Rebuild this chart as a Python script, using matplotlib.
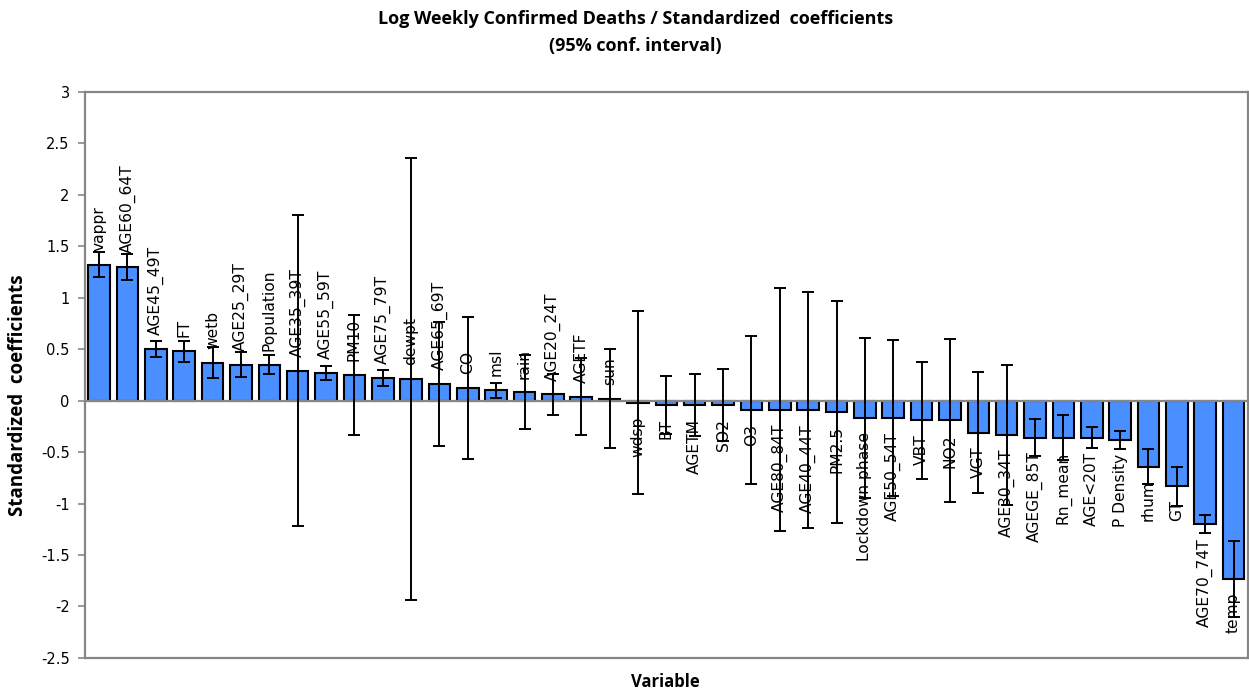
"""Standardized coefficients with 95% CI for log weekly confirmed deaths."""
import matplotlib
matplotlib.use("Agg")
import matplotlib.pyplot as plt
import numpy as np

variables = [
    "vappr", "AGE60_64T", "AGE45_49T", "FT", "wetb", "AGE25_29T", "Population",
    "AGE35_39T", "AGE55_59T", "PM10", "AGE75_79T", "dewpt", "AGE65_69T", "CO",
    "msl", "rain", "AGE20_24T", "AGETF", "sun", "wdsp", "BT", "AGETM", "SO2",
    "O3", "AGE80_84T", "AGE40_44T", "PM2.5", "Lockdown phase", "AGE50_54T",
    "VBT", "NO2", "VGT", "AGE30_34T", "AGEGE_85T", "Rn_mean", "AGE<20T",
    "P Density", "rhum", "GT", "AGE70_74T", "temp",
]
coef = [
    1.32, 1.30, 0.50, 0.48, 0.37, 0.35, 0.35, 0.29, 0.27, 0.25, 0.22, 0.21,
    0.16, 0.12, 0.10, 0.08, 0.06, 0.04, 0.02, -0.02, -0.045, -0.045, -0.045,
    -0.09, -0.09, -0.09, -0.11, -0.17, -0.17, -0.19, -0.19, -0.31, -0.33,
    -0.36, -0.36, -0.36, -0.38, -0.64, -0.83, -1.20, -1.73,
]
# half-width of the 95% confidence interval
ci = [
    0.12, 0.13, 0.08, 0.10, 0.15, 0.12, 0.09, 1.51, 0.07, 0.58, 0.08, 2.15,
    0.60, 0.69, 0.07, 0.36, 0.20, 0.37, 0.48, 0.89, 0.28, 0.30, 0.35, 0.72,
    1.18, 1.15, 1.08, 0.78, 0.76, 0.57, 0.79, 0.59, 0.68, 0.18, 0.22, 0.10,
    0.09, 0.17, 0.19, 0.09, 0.37,
]

BAR = "#4A8FFF"
GRAY = "#868686"

fig = plt.figure(figsize=(12.49, 6.94), dpi=100)
ax = fig.add_axes([0.068, 0.052, 0.931, 0.8155])

x = np.arange(len(variables))
ax.bar(x, coef, width=0.76, color=BAR, edgecolor="black", linewidth=1.5,
       zorder=2)
ax.axhline(0, color=GRAY, lw=1.6, zorder=3)
ax.errorbar(x, coef, yerr=ci, fmt="none", ecolor="black", elinewidth=1.4,
            capsize=4.5, capthick=1.4, zorder=4)

# value labels sit just outside the end of each bar
for xi, v, name in zip(x, coef, variables):
    up = v >= 0
    ax.annotate(name, (xi, v), xytext=(0, 10 if up else -10),
                textcoords="offset points", rotation=90, ha="center",
                va="bottom" if up else "top", fontsize=11.2, zorder=5)

ax.set_xlim(-0.5, len(variables) - 0.5)
ax.set_ylim(-2.5, 3)
ticks = np.arange(-2.5, 3.01, 0.5)
ax.set_yticks(ticks)
ax.set_yticklabels([f"{t:g}" for t in ticks])
ax.set_xticks([])
ax.tick_params(axis="y", direction="out", length=5, width=1.2, color=GRAY,
               labelsize=10.5, pad=6)
for s in ax.spines.values():
    s.set_color(GRAY)
    s.set_linewidth(1.6)

fig.text(0.0145, 0.431, "Standardized  coefficients", rotation=90,
         ha="center", va="center", fontsize=13.5, fontweight="bold",
         fontfamily="Open Sans")
fig.text(0.533, 0.01, "Variable", ha="center", fontsize=12,
         fontweight="bold", fontfamily="Open Sans")
fig.text(0.509, 0.953,
         "Log Weekly Confirmed Deaths / Standardized  coefficients\n"
         "(95% conf. interval)",
         ha="center", va="center", fontsize=13, fontweight="bold",
         fontfamily="Open Sans", linespacing=1.6)

fig.savefig("out.png", dpi=100)
